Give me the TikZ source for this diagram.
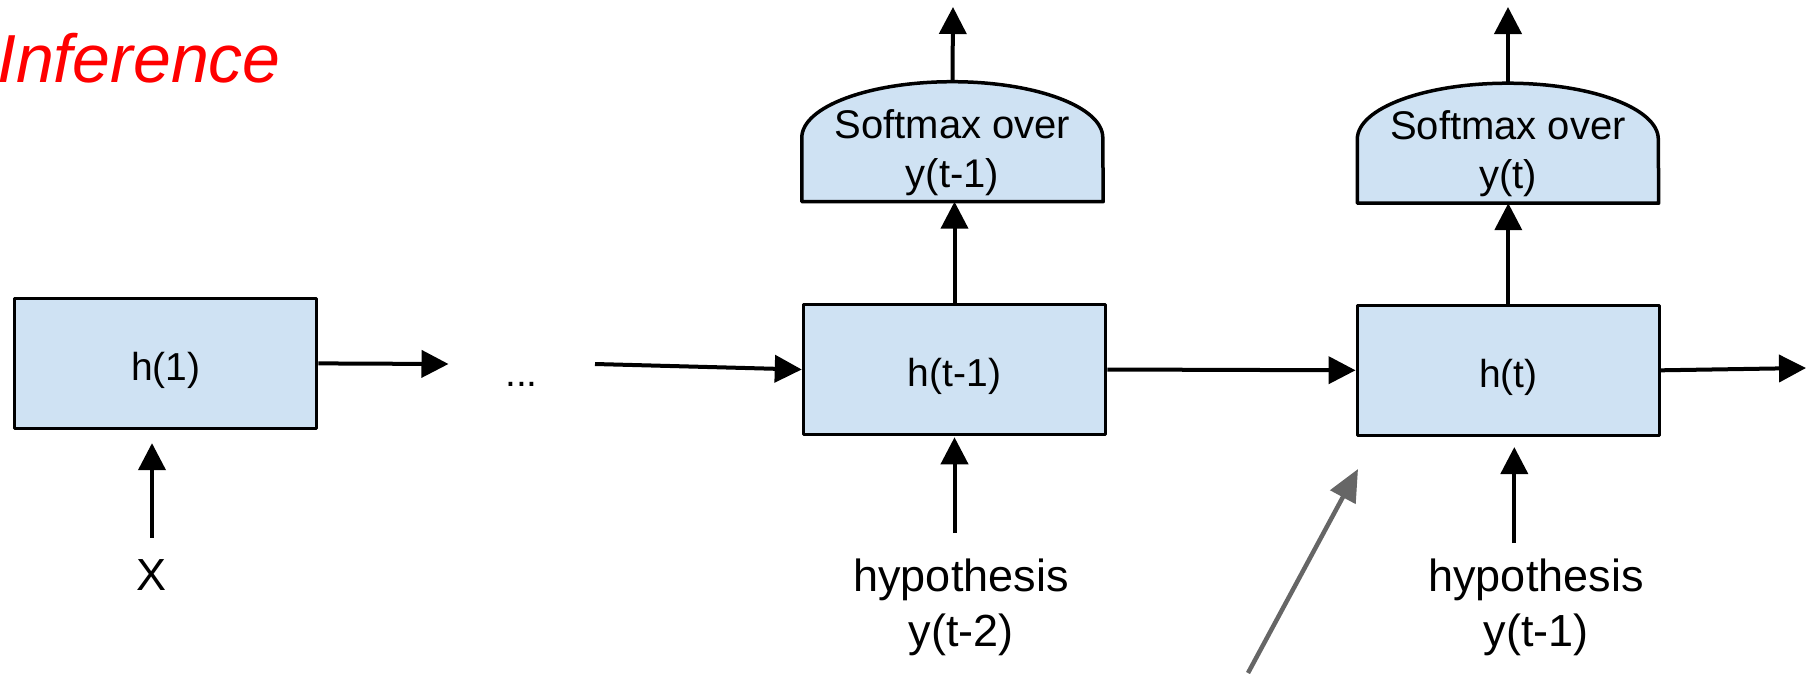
\documentclass[tikz,border=0pt]{standalone}
\usepackage{fontspec}
\setmainfont{Liberation Sans}
\usetikzlibrary{arrows.meta}
\definecolor{boxfill}{HTML}{CFE2F3}
\definecolor{grayarrow}{HTML}{666666}
\definecolor{titlered}{HTML}{FF0000}
\begin{document}
\begin{tikzpicture}[x=1pt,y=-1pt,
  hbox/.style={draw=black, line width=3.5pt, fill=boxfill, minimum width=302pt, minimum height=130pt, inner sep=0pt, line join=round, font=\fontsize{39}{45}\selectfont, text height=34pt, text depth=0pt},
  smframe/.style={minimum width=301pt, minimum height=120pt, inner sep=0pt},
  domeline/.style={draw=black, line width=3.5pt, fill=boxfill, line join=round},
  smlabel/.style={align=center, inner sep=0pt, font=\fontsize{40}{49}\selectfont},
  hyplabel/.style={align=center, inner sep=0pt, font=\fontsize{45}{55}\selectfont},
  xlabel/.style={inner sep=0pt, font=\fontsize{45}{55}\selectfont, text height=32pt, text depth=0pt},
  conn/.style={line width=4pt, -{Triangle[length=27pt,width=27pt]}},
  hint/.style={line width=4.5pt, draw=grayarrow, -{Triangle[length=32pt,width=28pt]}, color=grayarrow},
]
\useasboundingbox (0,0) rectangle (1818,673);

% title
\node[anchor=base east, inner sep=0pt, text=titlered, font=\fontsize{68}{80}\selectfont\itshape] (title) at (281,82) {Inference};

% hidden state boxes
\node[hbox] (h1) at (165.7,363.4) {h(1)};
\node[hbox] (ht1) at (954.5,369.5) {h(t-1)};
\node[hbox] (ht) at (1508.3,370.3) {h(t)};

% softmax blocks
\node[smframe] (sm1) at (952.5,141.5) {};
\draw[domeline] (sm1.south west) -- ++(0,-64) arc[start angle=180,end angle=0,x radius=150.5pt,y radius=56pt] -- (sm1.south east) -- cycle;
\node[smlabel] (sm1t) at (952.5,153) {Softmax over\\y(t-1)};

\node[smframe] (sm2) at (1508,143) {};
\draw[domeline] (sm2.south west) -- ++(0,-64) arc[start angle=180,end angle=0,x radius=150.5pt,y radius=56pt] -- (sm2.south east) -- cycle;
\node[smlabel] (sm2t) at (1508,154) {Softmax over\\y(t)};

% inputs
\node[xlabel] (X) at (152,574) {X};
\node[anchor=base, inner sep=0pt, font=\fontsize{39}{45}\selectfont] (dots) at (521.5,386) {...};
\node[hyplabel] (hyp1) at (961,607.8) {hypothesis\\y(t-2)};
\node[hyplabel] (hyp2) at (1536,607.8) {hypothesis\\y(t-1)};

% free ends
\coordinate (e1) at (448.5,364);
\coordinate (s2) at (595,364);
\coordinate (e4) at (1806,368);
\coordinate (top1) at (953,7);
\coordinate (top2) at (1508,7);
\coordinate (g1) at (1248,673);
\coordinate (g2) at (1358,469);

% connectors
\draw[conn] (h1.east) -- (e1);
\draw[conn] (s2) -- (ht1.west);
\draw[conn] (ht1.east) -- (ht.west);
\draw[conn] (ht.east) -- (e4);
\draw[conn] (ht1.north) -- (ht1.north |- sm1.south);
\draw[conn] (sm1.north) -- (top1);
\draw[conn] (ht.north) -- (ht.north |- sm2.south);
\draw[conn] (sm2.north) -- (top2);
\draw[conn, shorten <=20pt, shorten >=13pt] (X.north) -- (X.north |- h1.south);
\draw[conn, shorten <=26pt, shorten >=1pt] (ht1.south |- hyp1.north) -- (ht1.south);
\draw[conn, shorten <=16pt, shorten >=10pt] ([xshift=6pt]ht.south |- hyp2.north) -- ([xshift=6pt]ht.south);
\draw[hint] (g1) -- (g2);
\end{tikzpicture}
\end{document}
